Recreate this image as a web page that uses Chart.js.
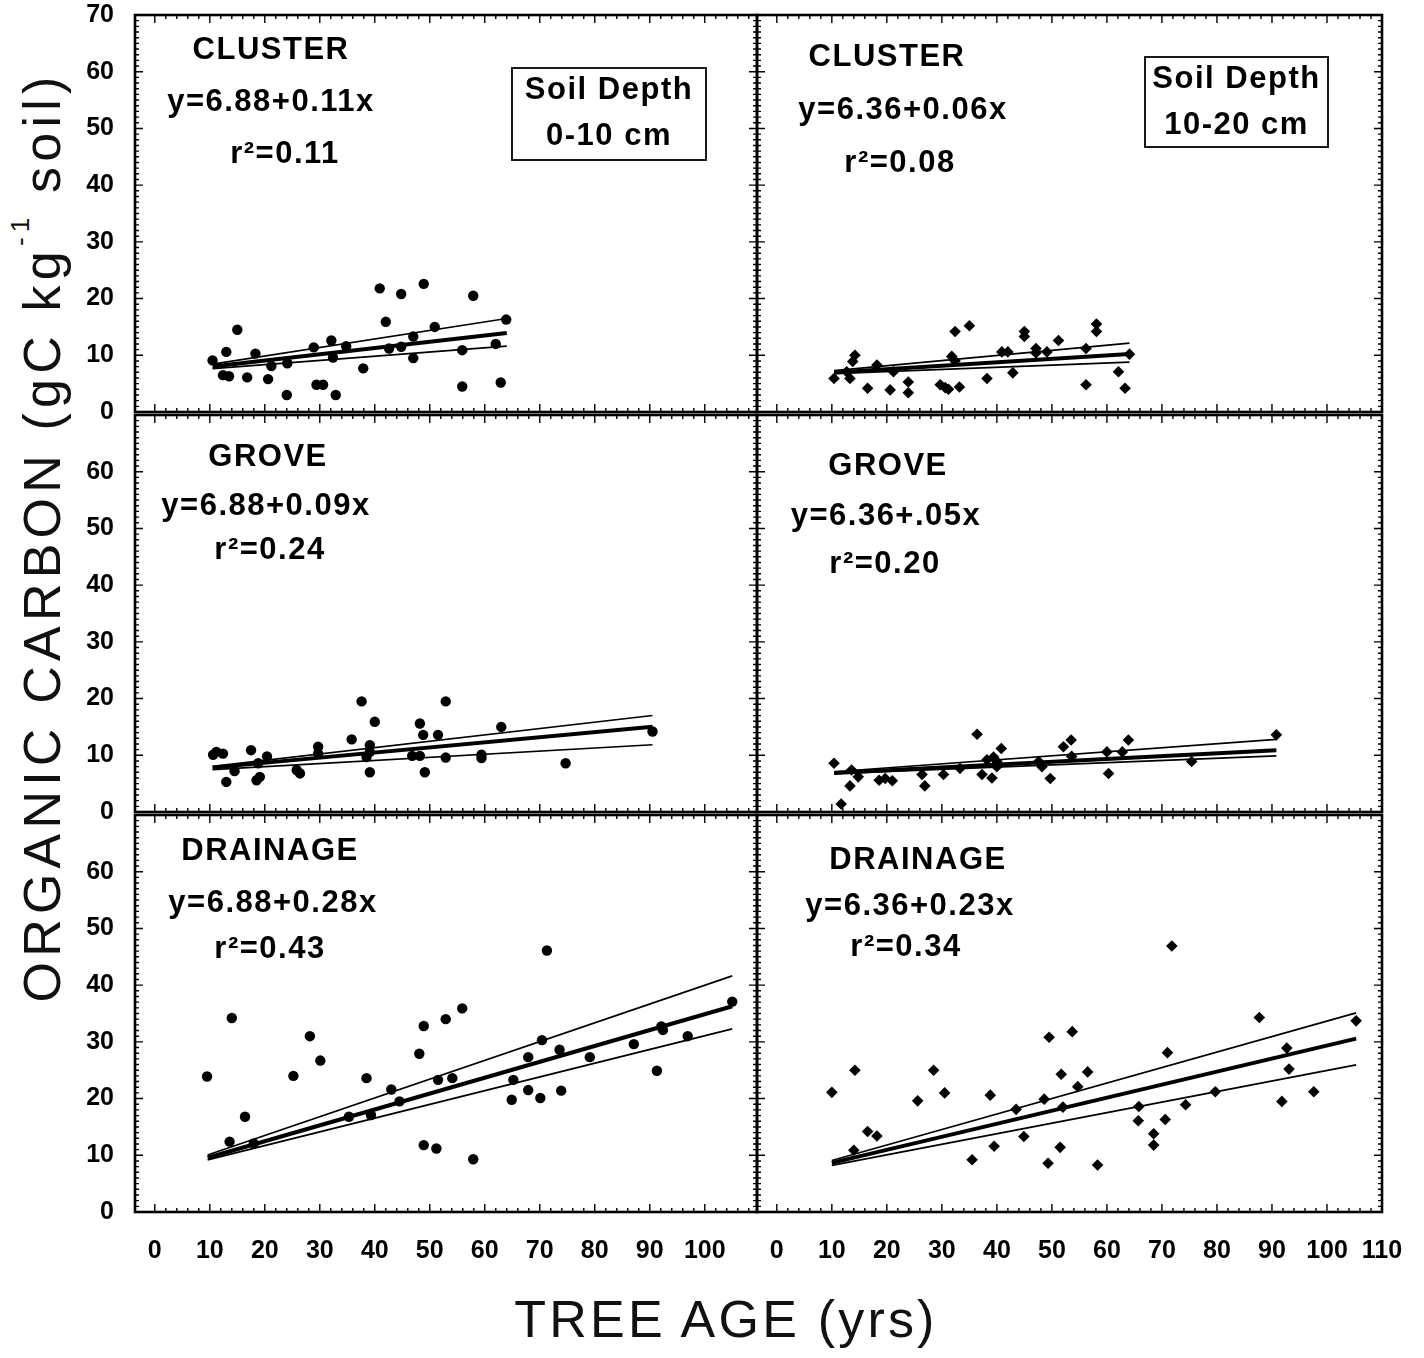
<!DOCTYPE html>
<html>
<head>
<meta charset="utf-8">
<script src="https://cdn.jsdelivr.net/npm/chart.js@4.4.1/dist/chart.umd.min.js"></script>
<style>
  html, body { margin: 0; padding: 0; background: #fff; }
  #page { position: relative; width: 1424px; height: 1358px; overflow: hidden; background: #fff; }
  #page canvas { position: absolute; }
  .title {
    position: absolute;
    font-family: "Liberation Sans", Arial, sans-serif;
    color: #111;
    white-space: nowrap;
    line-height: 1;
  }
  #xTitle { left: 726px; top: 1293px; font-size: 52px; letter-spacing: 3.2px; transform: translateX(-50%); }
  #yTitle { left: 42px; top: 537px; font-size: 52px; letter-spacing: 5.2px; transform: translate(-50%, -50%) rotate(-90deg); }
  #yTitle sup { font-size: 0.5em; position: relative; top: -0.35em; vertical-align: top; }
</style>
</head>
<body>
<div id="page">
  <div class="title" id="yTitle">ORGANIC CARBON (gC kg<sup>-1</sup> soil)</div>
  <div class="title" id="xTitle">TREE AGE (yrs)</div>
</div>
<script>
// ---- Axis ticks ----
const xTicksLeft = [0, 10, 20, 30, 40, 50, 60, 70, 80, 90, 100];
const xTicksRight = [0, 10, 20, 30, 40, 50, 60, 70, 80, 90, 100, 110];
const yTicksTop = [0, 10, 20, 30, 40, 50, 60, 70];
const yTicksLower = [0, 10, 20, 30, 40, 50, 60];

// ---- Observations: tree age (yrs) vs organic carbon (gC/kg soil) ----
// cluster, 0-10 cm
const clusterShallowAge = [10.5, 13.0, 15.0, 12.4, 13.5, 16.8, 18.3, 20.6, 21.2, 24.1, 24.0, 28.9, 29.4, 30.6, 32.1, 32.4, 32.9, 34.8, 37.9, 40.9, 42.0, 42.6, 44.8, 44.8, 47.0, 47.0, 48.9, 50.9, 55.9, 55.9, 57.9, 62.0, 62.9, 63.9];
const clusterShallowC = [9.1, 10.6, 14.5, 6.5, 6.3, 6.1, 10.3, 5.8, 8.1, 8.6, 3.0, 11.4, 4.8, 4.8, 12.6, 9.6, 3.0, 11.6, 7.7, 21.8, 15.9, 11.2, 20.8, 11.5, 13.3, 9.5, 22.6, 15.0, 10.9, 4.5, 20.5, 12.0, 5.2, 16.3];
// cluster, 10-20 cm
const clusterDeepAge = [10.4, 12.7, 13.3, 14.2, 13.8, 16.5, 18.2, 20.6, 21.2, 23.9, 23.9, 29.7, 30.6, 31.2, 31.8, 32.4, 32.4, 33.2, 35.0, 38.2, 40.9, 42.0, 42.9, 45.0, 45.0, 47.1, 47.1, 49.1, 51.2, 56.2, 56.2, 58.1, 58.1, 62.1, 63.3, 64.1];
const clusterDeepC = [5.9, 7.1, 5.9, 10.0, 8.9, 4.2, 8.3, 3.9, 7.1, 5.3, 3.4, 4.8, 4.3, 4.0, 9.8, 14.2, 9.0, 4.4, 15.2, 5.9, 10.6, 10.6, 6.9, 14.2, 13.3, 11.2, 10.4, 10.6, 12.6, 11.2, 4.8, 15.5, 14.2, 7.1, 4.2, 10.2];
// grove, 0-10 cm
const groveShallowAge = [10.6, 11.2, 12.4, 13.0, 14.5, 17.5, 18.5, 19.1, 18.8, 20.4, 25.8, 26.4, 29.7, 29.7, 35.8, 37.6, 38.5, 39.1, 39.1, 39.1, 40.0, 46.8, 48.2, 48.2, 48.8, 49.1, 51.5, 52.9, 52.9, 59.4, 59.4, 63.0, 74.7, 90.5];
const groveShallowC = [10.1, 10.6, 10.3, 5.3, 7.2, 10.9, 5.6, 6.2, 8.6, 9.8, 7.4, 6.8, 11.5, 10.3, 12.8, 19.5, 9.7, 11.8, 10.6, 7.0, 15.9, 9.9, 9.9, 15.6, 13.6, 7.0, 13.6, 19.5, 9.6, 10.1, 9.5, 15.0, 8.6, 14.2];
// grove, 10-20 cm
const groveDeepAge = [10.4, 11.7, 13.6, 14.8, 13.3, 18.6, 19.7, 21.0, 26.4, 26.9, 30.3, 33.3, 36.4, 37.3, 38.2, 39.4, 40.0, 39.1, 40.8, 40.0, 47.6, 48.2, 49.7, 52.1, 53.5, 53.6, 60.0, 60.3, 62.8, 63.9, 75.4, 90.8];
const groveDeepC = [8.6, 1.4, 7.4, 6.2, 4.6, 5.6, 5.9, 5.5, 6.6, 4.6, 6.6, 7.7, 13.7, 6.6, 9.2, 9.7, 8.9, 6.0, 11.2, 8.0, 8.9, 8.0, 5.9, 11.5, 12.7, 9.8, 10.6, 6.8, 10.6, 12.7, 8.9, 13.6];
// drainage, 0-10 cm
const drainageShallowAge = [9.5, 14.0, 13.6, 16.4, 18.0, 25.2, 28.2, 30.1, 35.3, 38.5, 39.3, 43.0, 44.5, 48.1, 48.9, 48.9, 51.2, 51.5, 52.9, 54.1, 55.9, 57.9, 64.9, 65.2, 67.9, 67.9, 70.1, 70.4, 71.3, 73.6, 73.9, 79.1, 87.1, 91.3, 92.1, 92.4, 96.9, 105.0];
const drainageShallowC = [23.9, 34.2, 12.4, 16.8, 12.1, 24.0, 31.0, 26.7, 16.8, 23.6, 17.1, 21.6, 19.5, 27.9, 32.8, 11.8, 11.2, 23.3, 34.0, 23.6, 35.9, 9.3, 19.8, 23.3, 21.5, 27.3, 20.1, 30.3, 46.1, 28.6, 21.4, 27.3, 29.6, 24.9, 32.7, 32.1, 31.0, 37.1];
// drainage, 10-20 cm
const drainageDeepAge = [10.0, 14.2, 14.0, 16.5, 18.2, 25.6, 28.5, 30.5, 35.5, 38.8, 39.5, 43.5, 44.9, 48.6, 49.3, 49.5, 51.7, 51.5, 52.0, 53.7, 54.7, 56.5, 58.3, 65.7, 65.8, 68.5, 68.5, 70.6, 71.0, 71.8, 74.3, 79.7, 87.7, 91.8, 92.7, 93.1, 97.6, 105.3];
const drainageDeepC = [21.1, 25.0, 10.9, 14.2, 13.4, 19.6, 25.0, 21.0, 9.2, 20.6, 11.6, 18.1, 13.3, 19.9, 8.6, 30.8, 24.3, 11.4, 18.5, 31.8, 22.1, 24.7, 8.3, 16.1, 18.6, 13.8, 11.8, 16.3, 28.1, 46.9, 18.9, 21.2, 34.3, 19.5, 28.9, 25.2, 21.2, 33.7];

// ---- Regression fits (order: cluster, grove, drainage; 0-10 then 10-20 cm) ----
const fitIntercept = [6.88, 6.36, 6.88, 6.36, 6.88, 6.36];
const fitSlope = [0.11, 0.06, 0.09, 0.05, 0.28, 0.23];
const bandUpperSlope = [0.150, 0.090, 0.112, 0.071, 0.331, 0.273];
const bandLowerSlope = [0.074, 0.038, 0.055, 0.039, 0.242, 0.186];
const fitFrom = [10.5, 10.4, 10.5, 10.4, 9.6, 10.0];
const fitTo = [64.0, 64.1, 90.5, 90.8, 105.0, 105.3];

const siteNames = ['CLUSTER', 'CLUSTER', 'GROVE', 'GROVE', 'DRAINAGE', 'DRAINAGE'];
const eqLabels = ['y=6.88+0.11x', 'y=6.36+0.06x', 'y=6.88+0.09x', 'y=6.36+.05x', 'y=6.88+0.28x', 'y=6.36+0.23x'];
const r2Labels = ['r\u00b2=0.11', 'r\u00b2=0.08', 'r\u00b2=0.24', 'r\u00b2=0.20', 'r\u00b2=0.43', 'r\u00b2=0.34'];
const depthLabels = ['0-10 cm', '10-20 cm'];

// ---- Layout ----
const COL_X = [135, 757];
const COL_W = [622, 625];
const X_MIN = -3.6;
const X_MAX = [109.5, 110];
const ROW_Y = [15, 415, 815];
const PLOT_H = 397;
const PAD = 16;
const PAD_R = 26;
const Y_AXIS_W = 75;
const X_AXIS_H = 52;
const FONT = '"Liberation Sans", Arial, sans-serif';

// text anchors relative to the plot area: name, equation, r2
const textPos = [
  [[136, 35], [136, 87], [150, 139]],
  [[130, 42], [146, 95], [143, 148]],
  [[133, 42], [131, 91], [135, 135]],
  [[131, 51], [129, 101], [128, 149]],
  [[135, 36], [138, 88], [135, 134]],
  [[161, 45], [153, 91], [149, 132]]
];
// soil depth box per column: x, y, w, h
const depthBox = [[377, 53, 194, 92], [388, 42, 183, 90]];

const seriesAge = [clusterShallowAge, clusterDeepAge, groveShallowAge, groveDeepAge, drainageShallowAge, drainageDeepAge];
const seriesC = [clusterShallowC, clusterDeepC, groveShallowC, groveDeepC, drainageShallowC, drainageDeepC];

// frame, inward ticks on all four sides, panel text
const framePlugin = {
  id: 'frame',
  afterDraw(chart, args, opts) {
    const { ctx, chartArea: a, scales: { x, y } } = chart;
    ctx.save();
    ctx.strokeStyle = '#000';
    ctx.lineWidth = 1.4;
    ctx.beginPath();
    for (let v = 0; v <= x.max; v += 2) {
      const px = x.getPixelForValue(v);
      const len = v % 10 === 0 ? 8 : 4;
      ctx.moveTo(px, a.top); ctx.lineTo(px, a.top + len);
      ctx.moveTo(px, a.bottom); ctx.lineTo(px, a.bottom - len);
    }
    for (let v = 0; v <= y.max; v += 1) {
      const py = y.getPixelForValue(v);
      const len = v % 10 === 0 ? 8 : 4;
      ctx.moveTo(a.left, py); ctx.lineTo(a.left + len, py);
      ctx.moveTo(a.right, py); ctx.lineTo(a.right - len, py);
    }
    ctx.stroke();
    ctx.lineWidth = 2.6;
    ctx.strokeRect(a.left, a.top, a.right - a.left, a.bottom - a.top);

    ctx.fillStyle = '#000';
    ctx.font = 'bold 31px ' + FONT;
    ctx.letterSpacing = '1.5px';
    ctx.textAlign = 'center';
    ctx.textBaseline = 'middle';
    opts.texts.forEach(t => ctx.fillText(t.text, a.left + t.dx, a.top + t.dy));

    if (opts.box) {
      const [bx, by, bw, bh] = opts.box.rect;
      ctx.lineWidth = 1.8;
      ctx.strokeRect(a.left + bx, a.top + by, bw, bh);
      ctx.fillText('Soil Depth', a.left + bx + bw / 2, a.top + by + 22);
      ctx.fillText(opts.box.depth, a.left + bx + bw / 2, a.top + by + 68);
    }
    ctx.restore();
  }
};

const page = document.getElementById('page');

for (let i = 0; i < 6; i++) {
  const row = Math.floor(i / 2);
  const col = i % 2;
  const bottomRow = row === 2;
  const leftCol = col === 0;

  const canvas = document.createElement('canvas');
  const w = (leftCol ? Y_AXIS_W : 0) + PAD + COL_W[col] + PAD_R;
  const h = PAD + PLOT_H + (bottomRow ? X_AXIS_H : 0) + PAD;
  canvas.width = w;
  canvas.height = h;
  canvas.style.left = (COL_X[col] - PAD - (leftCol ? Y_AXIS_W : 0)) + 'px';
  canvas.style.top = (ROW_Y[row] - PAD) + 'px';
  page.appendChild(canvas);

  const pts = seriesAge[i].map((a, k) => ({ x: a, y: seriesC[i][k] }));
  const x0 = fitFrom[i], x1 = fitTo[i];
  const a0 = fitIntercept[i];
  const lineOf = (b) => [{ x: x0, y: a0 + b * x0 }, { x: x1, y: a0 + b * x1 }];

  const lineStyle = (width) => ({
    showLine: true, borderColor: '#000', borderWidth: width,
    pointRadius: 0, backgroundColor: '#000', fill: false
  });

  const xTicks = leftCol ? xTicksLeft : xTicksRight;
  const yTicks = row === 0 ? yTicksTop : yTicksLower;
  const tickFont = { family: FONT, weight: 'bold', size: 25 };

  const texts = [siteNames[i], eqLabels[i], r2Labels[i]].map((t, k) => ({
    text: t, dx: textPos[i][k][0], dy: textPos[i][k][1]
  }));

  new Chart(canvas.getContext('2d'), {
    type: 'scatter',
    data: {
      datasets: [
        {
          data: pts,
          pointStyle: leftCol ? 'circle' : 'rectRot',
          pointRadius: leftCol ? 5.2 : 5.8,
          backgroundColor: '#000',
          borderColor: '#000',
          borderWidth: 0
        },
        { data: lineOf(fitSlope[i]), ...lineStyle(4) },
        { data: lineOf(bandUpperSlope[i]), ...lineStyle(1.7) },
        { data: lineOf(bandLowerSlope[i]), ...lineStyle(1.7) }
      ]
    },
    options: {
      responsive: false,
      animation: false,
      layout: { padding: { left: PAD, top: PAD, right: PAD_R, bottom: PAD } },
      plugins: {
        legend: { display: false },
        tooltip: { enabled: false },
        frame: {
          texts: texts,
          box: row === 0 ? { rect: depthBox[col], depth: depthLabels[col] } : null
        }
      },
      scales: {
        x: {
          type: 'linear',
          min: X_MIN,
          max: X_MAX[col],
          display: bottomRow,
          grid: { display: false },
          border: { display: false },
          afterBuildTicks: (s) => { s.ticks = xTicks.map(v => ({ value: v })); },
          afterFit: (s) => {
            // keep the plot area fixed; label overflow sits in the layout padding
            s.height = bottomRow ? X_AXIS_H : 0;
            s.paddingLeft = 0; s.paddingRight = 0;
          },
          ticks: { color: '#000', font: tickFont, padding: 16, autoSkip: false, maxRotation: 0, minRotation: 0 }
        },
        y: {
          type: 'linear',
          min: 0,
          max: 70,
          display: leftCol,
          grid: { display: false },
          border: { display: false },
          afterBuildTicks: (s) => { s.ticks = yTicks.map(v => ({ value: v })); },
          afterFit: (s) => {
            s.width = leftCol ? Y_AXIS_W : 0;
            s.paddingTop = 0; s.paddingBottom = 0;
          },
          ticks: { color: '#000', font: tickFont, padding: 13, autoSkip: false }
        }
      }
    },
    plugins: [framePlugin]
  });
}
</script>
</body>
</html>
